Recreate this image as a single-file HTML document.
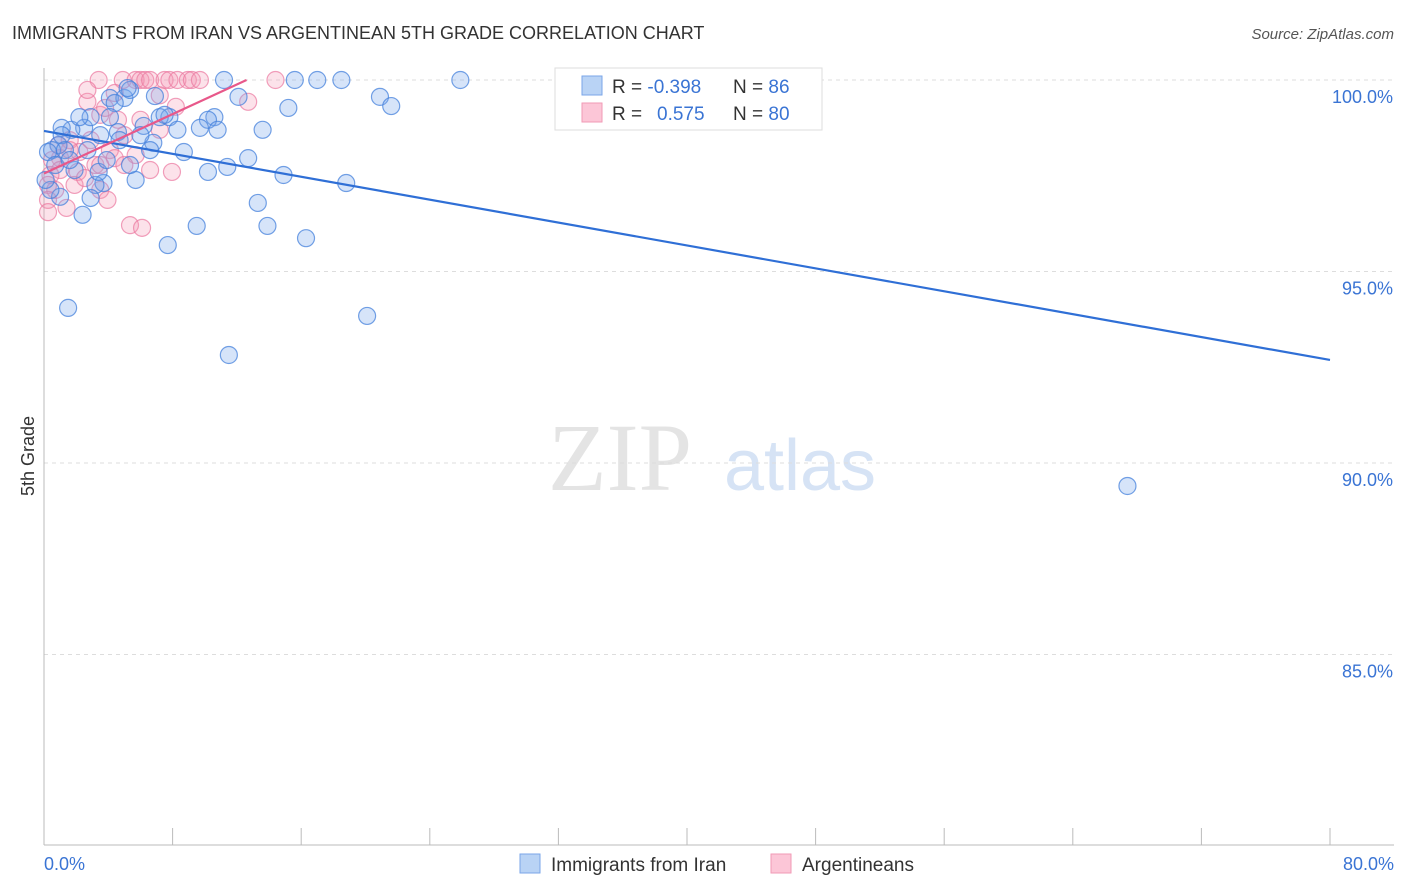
<!DOCTYPE html>
<html><head><meta charset="utf-8"><style>
body{margin:0;background:#fff;font-family:"Liberation Sans",sans-serif;}
svg{display:block}
</style></head><body>
<svg id="chart" width="1406" height="892" xmlns="http://www.w3.org/2000/svg">
<text x="12" y="39" font-size="18" fill="#333">IMMIGRANTS FROM IRAN VS ARGENTINEAN 5TH GRADE CORRELATION CHART</text>
<text x="1394" y="39" font-size="15" fill="#555" font-style="italic" text-anchor="end">Source: ZipAtlas.com</text>
<text x="620" y="490" font-size="96" fill="#e4e4e4" font-family="Liberation Serif,serif" text-anchor="middle">ZIP</text>
<text x="800" y="490" font-size="72" fill="#d6e3f5" text-anchor="middle">atlas</text>
<g id="grid"></g>
<g id="axes"></g>
<g id="pts"></g>
<g id="lines"></g>
<g>
<rect x="555" y="68" width="267" height="62" fill="#fff" stroke="#ddd"/>
<rect x="582" y="76" width="20" height="19" fill="#b9d3f5" stroke="#7aa6e8"/>
<text x="612" y="93" font-size="19" fill="#333">R = <tspan fill="#3a74d4">-0.398</tspan><tspan x="733">N = </tspan><tspan fill="#3a74d4">86</tspan></text>
<rect x="582" y="103" width="20" height="19" fill="#fcc6d7" stroke="#f19ab6"/>
<text x="612" y="120" font-size="19" fill="#333">R = <tspan x="657" fill="#3a74d4">0.575</tspan><tspan x="733">N = </tspan><tspan fill="#3a74d4">80</tspan></text>
</g>
<g>
<rect x="520" y="854" width="20" height="19" fill="#b9d3f5" stroke="#7aa6e8"/>
<text x="551" y="871" font-size="19" fill="#333">Immigrants from Iran</text>
<rect x="771" y="854" width="20" height="19" fill="#fcc6d7" stroke="#f19ab6"/>
<text x="802" y="871" font-size="19" fill="#333">Argentineans</text>
</g>
<text x="34" y="456" font-size="18" fill="#333" transform="rotate(-90 34 456)" text-anchor="middle">5th Grade</text>
</svg>
<script>
const yTicks=[100,95,90,85];
const yTickLabels=["100.0%","95.0%","90.0%","85.0%"];
const xTickLabels=["0.0%","80.0%"];
const iranX=[11.2,15.6,17.0,18.5,25.9,12.1,20.9,21.6,15.2,6.9,4.1,5.0,5.35,4.4,7.8,7.2,10.6,10.2,9.7,10.8,8.3,13.6,6.2,4.6,3.5,2.5,1.7,1.1,0.9,0.5,0.25,1.1,2.9,2.2,4.1,6.8,8.7,12.7,11.4,10.2,14.9,18.8,5.7,3.7,3.2,2.9,1.0,0.4,2.4,13.3,13.9,9.5,7.7,16.3,1.5,20.1,11.5,67.4,5.35,3.4,1.9,0.7,4.7,1.3,0.1,1.6,2.7,3.9,6.6,6.0,7.5,5.2];
const iranY=[100,100,100,100,100,99.56,99.56,99.32,99.27,99.58,99.53,99.53,99.74,99.4,99.03,99.03,99.03,98.96,98.75,98.7,98.7,98.7,98.8,98.64,98.56,98.75,98.7,98.75,98.3,98.17,98.12,98.56,99.03,99.03,99.03,98.36,98.12,97.96,97.73,97.6,97.52,97.31,97.39,97.31,97.26,96.92,96.95,97.13,96.48,96.79,96.19,96.19,95.69,95.87,94.05,93.84,92.82,89.4,97.78,97.6,97.65,97.78,98.43,98.17,97.39,97.91,98.17,97.91,98.17,98.56,99.09,99.79];
const argX=[3.4,4.9,5.7,6.0,6.3,6.6,7.5,7.8,8.3,8.95,9.2,9.7,14.4,12.7,7.2,2.7,8.2,3.5,7.2,5.0,2.9,1.6,4.1,2.2,1.0,0.5,4.4,5.7,6.6,7.96,5.0,2.1,1.0,0.4,0.25,0.7,0.25,0.25,1.4,3.5,3.95,5.35,6.1,1.9,3.2,4.6,6.0,3.8,2.7,4.4,1.6,0.9,3.5,2.55];
const argY=[100,100,100,100,100,100,100,100,100,100,100,100,100,99.43,99.6,99.43,99.3,99.09,98.7,98.56,98.43,98.43,98.17,98.12,97.96,97.91,97.96,98.04,97.65,97.6,97.78,97.6,97.65,97.52,97.26,97.13,96.87,96.55,96.66,97.13,96.87,96.21,96.14,97.26,97.78,98.96,98.96,99.27,99.74,99.66,98.17,98.3,97.78,97.44];
const iranTrend=[[0,98.67],[80,92.69]];
const argTrend=[[0,97.56],[12.6,100]];
const NS="http://www.w3.org/2000/svg";
const sx=v=>44+v*1286/80, sy=v=>80+(100-v)*38.3;
function mk(tag,attrs,parent){const e=document.createElementNS(NS,tag);for(const k in attrs)e.setAttribute(k,attrs[k]);parent.appendChild(e);return e;}
const grid=document.getElementById('grid'),axes=document.getElementById('axes'),pts=document.getElementById('pts'),lines=document.getElementById('lines');
yTicks.forEach((t,i)=>{
 const l=mk('line',{x1:44,x2:1394,y1:sy(t),y2:sy(t),stroke:'#ddd','stroke-dasharray':'4,4'},grid);
 
 
 const tx=mk('text',{x:1393,y:sy(t)+23,'font-size':18,fill:'#3a74d4','text-anchor':'end'},axes);
 tx.textContent=yTickLabels[i];
 
 
});
const ax=mk('line',{x1:44,x2:44,y1:68,y2:845,stroke:'#bbb'},axes);


const bx=mk('line',{x1:44,x2:1394,y1:845,y2:845,stroke:'#bbb'},axes);


for(let i=0;i<=10;i++){const t=mk('line',{x1:sx(i*8),x2:sx(i*8),y1:828,y2:845,stroke:'#bbb'},axes);
 
 }
[[0,'start',44],[80,'end',1394]].forEach((d,i)=>{const t=mk('text',{x:d[2],y:870,'font-size':18,fill:'#3a74d4','text-anchor':d[1]},axes);t.textContent=xTickLabels[i];
 
 });
argX.forEach((x,i)=>{const c=mk('circle',{cx:sx(x),cy:sy(argY[i]),r:8.5,fill:'rgba(245,150,180,0.28)',stroke:'rgba(235,120,160,0.7)','stroke-width':1.2},pts);
 
 });
iranX.forEach((x,i)=>{const c=mk('circle',{cx:sx(x),cy:sy(iranY[i]),r:8.5,fill:'rgba(120,165,235,0.3)',stroke:'rgba(70,130,220,0.75)','stroke-width':1.2},pts);
 
 });
const l1=mk('line',{x1:sx(iranTrend[0][0]),y1:sy(iranTrend[0][1]),x2:sx(iranTrend[1][0]),y2:sy(iranTrend[1][1]),stroke:'#2f6fd6','stroke-width':2.2},lines);


const l2=mk('line',{x1:sx(argTrend[0][0]),y1:sy(argTrend[0][1]),x2:sx(argTrend[1][0]),y2:sy(argTrend[1][1]),stroke:'#e8588a','stroke-width':2.2},lines);


</script>
</body></html>
